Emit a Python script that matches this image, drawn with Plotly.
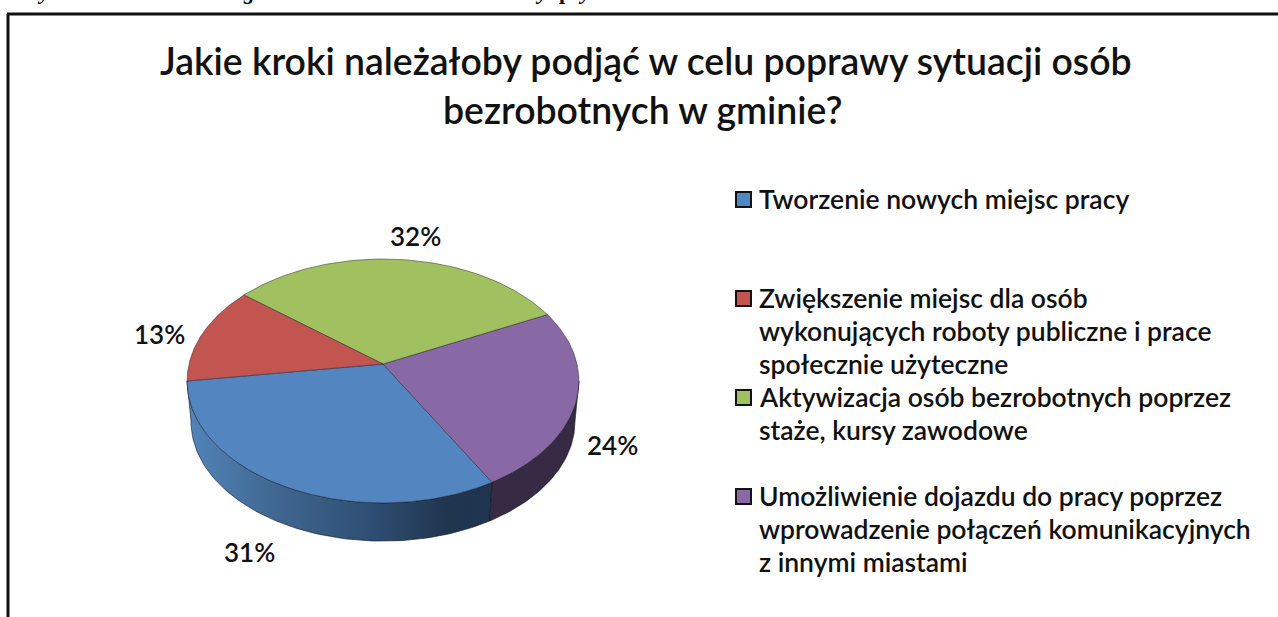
import numpy as np
import plotly.graph_objects as go

TITLE_LINES = ["Jakie kroki należałoby podjąć w celu poprawy sytuacji osób", "bezrobotnych w gminie?"]
categories = [
    "Tworzenie nowych miejsc pracy",
    "Zwiększenie miejsc dla osób<br>wykonujących roboty publiczne i prace<br>społecznie użyteczne",
    "Aktywizacja osób bezrobotnych poprzez<br>staże, kursy zawodowe",
    "Umożliwienie dojazdu do pracy poprzez<br>wprowadzenie połączeń komunikacyjnych<br>z innymi miastami",
]
values = [31, 13, 32, 24]
colors = ["#5385c0", "#c25550", "#a1c05f", "#8869a6"]
label_x = [249, 159, 415, 612]
label_y = [552, 334, 236, 445]
legend_y = [199, 298, 397, 496]
# Cropped caption above the frame: only the descenders show
caption_glyphs = ["y", "g", "y", "p", "y"]
caption_x = [43, 249, 541, 565, 584]

# Perspective view of the pie disc
CX, CY = 383, 364
A, B, P = 119.6, 194.0, 0.139
START = 188.0
DEPTH, SHRINK = 41, 0.98
FONT = "'Lato Semibold', Lato, sans-serif"
INK = "#111111"


def rim(a0, a1, scale=1.0, dy=0.0, n=90):
    t = np.radians(np.linspace(a0, a1, n))
    u, v = np.cos(t), np.sin(t)
    w = 1 + P * v
    return CX + scale * B * u / w, CY + dy - scale * A * v / w


# Anticlockwise on screen: blue, purple, green, red
order = [0, 3, 2, 1]
edges = START + np.concatenate([[0], np.cumsum([values[i] for i in order])]) * 3.6
fig = go.Figure()

# Side wall: visible only on the near half of the disc
silhouette = 360 - np.degrees(np.arcsin(P))
wall_ends = [(edges[0], edges[1]), (edges[1], silhouette)]
wall_fill = [
    dict(fillgradient=dict(type="horizontal", start=187, stop=492, colorscale=[
        [0, "#5285ba"], [0.3, "#3f6690"], [0.6, "#2f4f74"], [0.85, "#20364f"], [1, "#1f3550"]])),
    dict(fillcolor="#362a44"),
]
for (a0, a1), fill in zip(wall_ends, wall_fill):
    x1, y1 = rim(a0, a1)
    x2, y2 = rim(a1, a0, SHRINK, DEPTH)
    fig.add_trace(go.Scatter(x=np.r_[x1, x2, x1[0]], y=np.r_[y1, y2, y1[0]], mode="lines",
                             fill="toself", line=dict(color="rgba(20,20,30,0.75)", width=0.8),
                             hoverinfo="skip", showlegend=False, **fill))

# Top face slices
for k, i in enumerate(order):
    x, y = rim(edges[k], edges[k + 1])
    fig.add_trace(go.Scatter(x=np.r_[CX, x, CX], y=np.r_[CY, y, CY], mode="lines", fill="toself",
                             fillcolor=colors[i], line=dict(color="rgba(30,30,40,0.6)", width=0.8),
                             name=categories[i].replace("<br>", " "), text=f"{values[i]}%", hoverinfo="name+text",
                             showlegend=False))

# Legend keys
fig.add_trace(go.Scatter(x=[743.5] * 4, y=[v + 0.5 for v in legend_y], mode="markers",
                         marker=dict(symbol="square", size=15, color=colors, line=dict(color="#111111", width=2)),
                         hoverinfo="skip", showlegend=False))

anns = []
for name, y in zip(categories, legend_y):
    for j, line in enumerate(name.split("<br>")):
        anns.append(dict(x=757, y=y + j * 33, text=line, xanchor="left", yanchor="middle", align="left",
                         showarrow=False, font=dict(family=FONT, size=26.5, color=INK), xref="x", yref="y"))
for v, x, y in zip(values, label_x, label_y):
    anns.append(dict(x=x, y=y, text=f"{v}%", showarrow=False, font=dict(family=FONT, size=26, color=INK),
                     xref="x", yref="y"))
for line, x, y in zip(TITLE_LINES, [646, 642], [60.5, 109]):
    anns.append(dict(x=x, y=y, text=line, showarrow=False, font=dict(family=FONT, size=37.4, color=INK),
                     xref="x", yref="y"))
for g, x in zip(caption_glyphs, caption_x):
    anns.append(dict(x=x, y=6, text=f"<b><i>{g}</i></b>" if g != "p" else f"<b>{g}</b>", showarrow=False,
                     yanchor="bottom", font=dict(family="'Liberation Serif', serif", size=22, color="#000000"),
                     xref="x", yref="y"))

fig.update_layout(
    width=1278, height=617, margin=dict(l=0, r=0, t=0, b=0),
    paper_bgcolor="white", plot_bgcolor="white", showlegend=False,
    xaxis=dict(range=[0, 1278], visible=False, fixedrange=True),
    yaxis=dict(range=[617, 0], visible=False, fixedrange=True),
    annotations=anns,
    shapes=[
        dict(type="line", x0=8, x1=8, y0=14, y1=617, line=dict(color="#111111", width=3), xref="x", yref="y"),
        dict(type="line", x0=7, x1=1278, y0=14, y1=14, line=dict(color="#111111", width=3), xref="x", yref="y"),
    ],
)
fig.write_html("out.html", post_script="document.body.style.margin='0';", config=dict(displayModeBar=False))
